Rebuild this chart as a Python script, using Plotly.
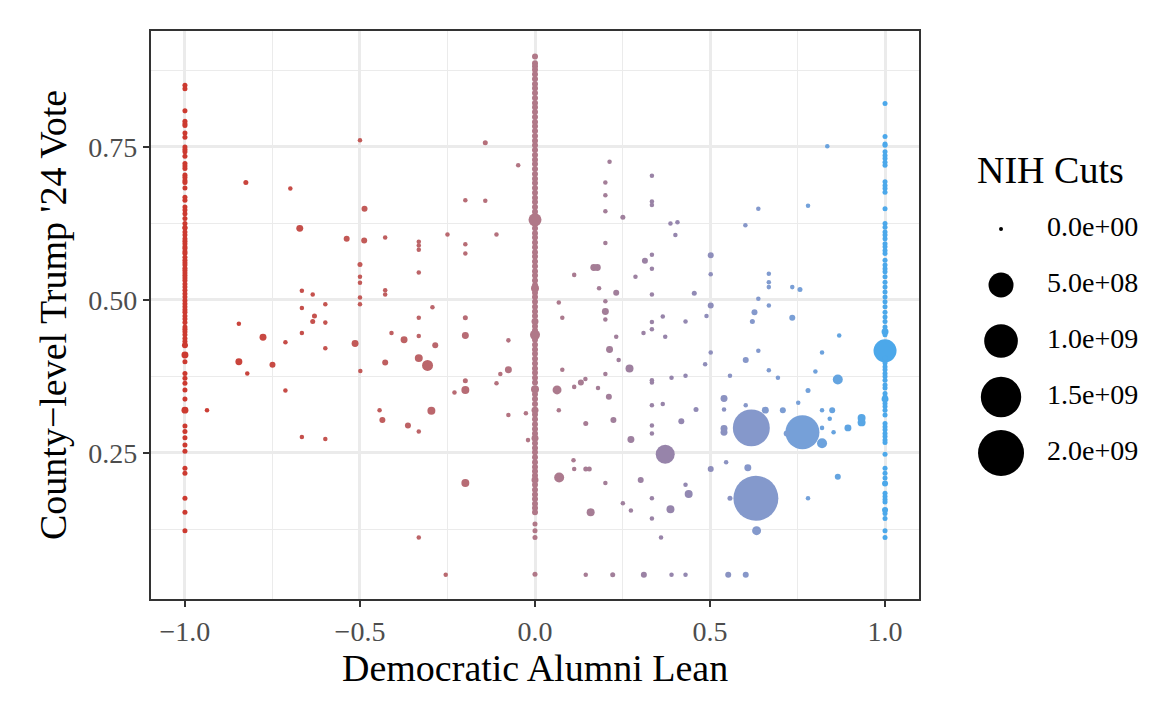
import numpy as np
import plotly.graph_objects as go

# universities spread across the lean axis
lean = [-0.826, -0.699, -0.500, -0.142, -0.048, -0.487, -0.199, -0.142, -0.672, -0.538,
        -0.488, -0.428, -0.332, -0.332, -0.332, -0.250, -0.199, -0.199, -0.110, -0.500,
        -0.500, -0.500, -0.332, -0.666, -0.635, -0.599, -0.666, -0.630, -0.500, -0.500,
        -0.428, -0.428, -0.293, -0.332, -0.199,
        -0.846, -0.635, -0.599, -0.777, -0.666, -0.713, -0.599, -0.514, -0.410, -0.374,
        -0.332, -0.285, -0.199, -0.076, -0.846, -0.750, -0.822, -0.499, -0.428, -0.332,
        -0.307, -0.076, -0.099, -0.199, -0.199, -0.110, -0.230, -0.713, -0.937, -0.444,
        -0.436, -0.363, -0.332, -0.296, -0.076, -0.026, -0.020, -0.666, -0.599, -0.199,
        -0.332, -0.255,
        0.213, 0.201, 0.201, 0.201, 0.251, 0.334, 0.334, 0.334, 0.387, 0.407,
        0.401, 0.201, 0.112, 0.168, 0.178, 0.183, 0.232, 0.201, 0.201, 0.287,
        0.314, 0.334, 0.334, 0.334, 0.068, 0.078, 0.365, 0.455, 0.502, 0.502,
        0.502, 0.490, 0.601, 0.638, 0.780, 0.835, 0.668, 0.668, 0.668, 0.668,
        0.638, 0.627, 0.735, 0.757, 0.735,
        0.201, 0.334, 0.334, 0.430, 0.621, 0.310, 0.372, 0.232, 0.078, 0.213,
        0.239, 0.270, 0.201, 0.063, 0.112, 0.131, 0.144, 0.180, 0.211, 0.068,
        0.145, 0.224, 0.274, 0.334, 0.334, 0.390, 0.430, 0.334, 0.365, 0.334,
        0.334, 0.418, 0.460, 0.502, 0.486, 0.557, 0.602, 0.638, 0.668, 0.694,
        0.540, 0.540, 0.602, 0.540, 0.540, 0.618, 0.658, 0.708, 0.764, 0.719,
        0.752, 0.780, 0.801, 0.820, 0.869, 0.865, 0.820, 0.849, 0.842, 0.820,
        0.853, 0.820, 0.894, 0.933, 0.933, 0.372, 0.502, 0.546, 0.608, 0.865,
        0.069, 0.110, 0.112, 0.145, 0.155, 0.201, 0.302, 0.430, 0.439, 0.334,
        0.557, 0.631, 0.780, 0.251, 0.274, 0.387, 0.159, 0.334, 0.633, 0.360,
        0.145, 0.222, 0.311, 0.390, 0.430, 0.552, 0.602]
vote = [0.692, 0.682, 0.761, 0.757, 0.720, 0.649, 0.663, 0.662, 0.617, 0.600,
        0.597, 0.602, 0.595, 0.589, 0.582, 0.607, 0.591, 0.576, 0.607, 0.558,
        0.538, 0.528, 0.545, 0.515, 0.509, 0.493, 0.487, 0.474, 0.504, 0.493,
        0.516, 0.509, 0.488, 0.471, 0.471,
        0.461, 0.465, 0.463, 0.439, 0.446, 0.431, 0.421, 0.429, 0.446, 0.435,
        0.441, 0.426, 0.442, 0.434, 0.399, 0.394, 0.380, 0.384, 0.398, 0.405,
        0.393, 0.386, 0.379, 0.368, 0.353, 0.364, 0.349, 0.352, 0.320, 0.320,
        0.304, 0.295, 0.285, 0.319, 0.312, 0.315, 0.271, 0.276, 0.273, 0.201,
        0.112, 0.051,
        0.726, 0.692, 0.671, 0.645, 0.635, 0.703, 0.661, 0.655, 0.625, 0.627,
        0.606, 0.593, 0.541, 0.553, 0.553, 0.519, 0.512, 0.498, 0.481, 0.538,
        0.564, 0.574, 0.551, 0.509, 0.496, 0.471, 0.473, 0.511, 0.573, 0.542,
        0.491, 0.474, 0.622, 0.649, 0.654, 0.751, 0.543, 0.529, 0.521, 0.491,
        0.502, 0.480, 0.521, 0.517, 0.471,
        0.468, 0.464, 0.452, 0.465, 0.465, 0.446, 0.440, 0.440, 0.386, 0.419,
        0.402, 0.388, 0.379, 0.353, 0.358, 0.365, 0.371, 0.356, 0.342, 0.320,
        0.298, 0.304, 0.272, 0.369, 0.365, 0.373, 0.376, 0.328, 0.330, 0.295,
        0.282, 0.302, 0.321, 0.414, 0.395, 0.376, 0.402, 0.417, 0.385, 0.373,
        0.339, 0.321, 0.328, 0.290, 0.284, 0.291, 0.320, 0.320, 0.284, 0.282,
        0.332, 0.352, 0.383, 0.414, 0.442, 0.370, 0.320, 0.320, 0.306, 0.291,
        0.284, 0.266, 0.291, 0.307, 0.300, 0.248, 0.224, 0.235, 0.226, 0.211,
        0.210, 0.238, 0.224, 0.224, 0.224, 0.201, 0.206, 0.198, 0.183, 0.176,
        0.176, 0.176, 0.176, 0.168, 0.156, 0.158, 0.153, 0.143, 0.123, 0.112,
        0.051, 0.051, 0.051, 0.051, 0.051, 0.051, 0.051]
cuts = [1.2e6, 3e5, 3e5, 1.2e6, 3e5, 4.5e6, 3e5, 3e5, 1.0e7, 4.5e6,
        4.5e6, 3e5, 3e5, 3e5, 3e5, 3e5, 3e5, 3e5, 3e5, 1.2e6,
        3e5, 3e5, 3e5, 3e5, 3e5, 3e5, 3e5, 1.2e6, 3e5, 3e5,
        3e5, 3e5, 3e5, 3e5, 1.2e6,
        3e5, 1.2e6, 3e5, 1.0e7, 3e5, 3e5, 3e5, 1.0e7, 3e5, 1.0e7,
        3e5, 4.5e6, 1.0e7, 3e5, 1.0e7, 4.5e6, 3e5, 3e5, 4.5e6, 1.8e7,
        5.6e7, 1.0e7, 3e5, 1.2e6, 1.8e7, 3e5, 3e5, 3e5, 3e5, 3e5,
        4.5e6, 4.5e6, 3e5, 1.8e7, 3e5, 3e5, 3e5, 3e5, 3e5, 1.8e7,
        3e5, 3e5,
        3e5, 3e5, 3e5, 3e5, 1.2e6, 3e5, 3e5, 3e5, 3e5, 3e5,
        3e5, 3e5, 3e5, 1.0e7, 1.0e7, 3e5, 4.5e6, 3e5, 1.0e7, 3e5,
        4.5e6, 3e5, 3e5, 3e5, 3e5, 3e5, 3e5, 1.2e6, 4.5e6, 3e5,
        4.5e6, 3e5, 3e5, 3e5, 3e5, 3e5, 3e5, 3e5, 3e5, 3e5,
        3e5, 4.5e6, 3e5, 1.2e6, 4.5e6,
        3e5, 3e5, 3e5, 3e5, 1.2e6, 3e5, 3e5, 3e5, 3e5, 1.0e7,
        3e5, 1.8e7, 3e5, 2.8e7, 3e5, 4.5e6, 3e5, 3e5, 4.5e6, 3e5,
        1.2e6, 4.5e6, 1.0e7, 3e5, 3e5, 3e5, 3e5, 3e5, 3e5, 3e5,
        3e5, 4.5e6, 1.2e6, 3e5, 3e5, 3e5, 4.5e6, 3e5, 3e5, 3e5,
        1.0e7, 3e5, 3e5, 1.0e7, 1.0e7, 1.23e9, 1.0e7, 4.5e6, 1.02e9, 4.5e6,
        3e5, 1.2e6, 3e5, 3e5, 3e5, 4.1e7, 3e5, 4.5e6, 3e5, 3e5,
        3e5, 4.1e7, 1.0e7, 1.8e7, 1.8e7, 2.55e8, 4.5e6, 3e5, 1.0e7, 4.5e6,
        4.1e7, 3e5, 3e5, 1.2e6, 1.2e6, 3e5, 4.5e6, 3e5, 1.8e7, 3e5,
        1.2e6, 1.9e9, 3e5, 3e5, 3e5, 1.8e7, 1.8e7, 3e5, 2.8e7, 3e5,
        3e5, 1.2e6, 4.5e6, 3e5, 3e5, 4.5e6, 4.5e6]

# lean = -1 column
rep_vote = [0.851, 0.845, 0.809, 0.792, 0.788, 0.785, 0.773, 0.766, 0.750, 0.746,
            0.742, 0.735, 0.723, 0.719, 0.715, 0.704, 0.700, 0.695, 0.692, 0.683,
            0.668, 0.663, 0.652, 0.647, 0.641, 0.633, 0.625, 0.619, 0.617, 0.611,
            0.606, 0.600, 0.596, 0.592, 0.587, 0.584, 0.579, 0.576, 0.570, 0.565,
            0.561, 0.557, 0.552, 0.548, 0.544, 0.540, 0.536, 0.532, 0.526, 0.521,
            0.516, 0.510, 0.505, 0.499, 0.494, 0.489, 0.484, 0.480, 0.474, 0.469,
            0.463, 0.456, 0.452, 0.448, 0.443, 0.437, 0.432, 0.426, 0.410, 0.399,
            0.380, 0.372, 0.364, 0.353, 0.338, 0.320, 0.294, 0.285, 0.275, 0.263,
            0.253, 0.225, 0.217, 0.176, 0.153, 0.123]
rep_cuts = [1.2e6, 1.2e6, 1.2e6, 1.2e6, 1.2e6, 1.2e6, 1.2e6, 1.2e6, 1.2e6, 1.2e6,
            1.2e6, 1.2e6, 1.2e6, 1.2e6, 1.2e6, 1.2e6, 1.2e6, 1.2e6, 1.2e6, 1.2e6,
            1.2e6, 1.2e6, 1.2e6, 1.2e6, 1.2e6, 1.2e6, 1.2e6, 1.2e6, 1.2e6, 1.2e6,
            1.2e6, 1.2e6, 1.2e6, 1.2e6, 1.2e6, 1.2e6, 1.2e6, 1.2e6, 1.2e6, 1.2e6,
            1.2e6, 1.2e6, 1.2e6, 1.2e6, 1.2e6, 1.2e6, 1.2e6, 1.2e6, 1.2e6, 1.2e6,
            1.2e6, 1.2e6, 1.2e6, 1.2e6, 1.2e6, 1.2e6, 1.2e6, 1.2e6, 1.2e6, 1.2e6,
            1.2e6, 1.2e6, 1.2e6, 1.2e6, 1.2e6, 1.2e6, 1.2e6, 4.5e6, 1.0e7, 1.2e6,
            1.2e6, 1.2e6, 1.2e6, 1.2e6, 1.2e6, 1.0e7, 1.2e6, 1.2e6, 1.2e6, 1.2e6,
            1.2e6, 1.2e6, 1.2e6, 1.2e6, 1.2e6, 1.2e6]

# lean = 0 column
mix_vote = [0.898, 0.887, 0.882, 0.876, 0.869, 0.861, 0.853, 0.846, 0.838, 0.830,
            0.822, 0.815, 0.807, 0.799, 0.791, 0.784, 0.776, 0.768, 0.760, 0.753,
            0.745, 0.737, 0.729, 0.722, 0.714, 0.706, 0.698, 0.691, 0.683, 0.675,
            0.667, 0.660, 0.652, 0.644, 0.636, 0.631, 0.625, 0.617, 0.609, 0.602,
            0.594, 0.586, 0.578, 0.571, 0.563, 0.555, 0.547, 0.540, 0.532, 0.524,
            0.519, 0.512, 0.505, 0.497, 0.489, 0.481, 0.474, 0.465, 0.457, 0.450,
            0.443, 0.435, 0.427, 0.419, 0.412, 0.404, 0.396, 0.388, 0.381, 0.373,
            0.365, 0.354, 0.346, 0.338, 0.330, 0.320, 0.313, 0.305, 0.297, 0.289,
            0.282, 0.274, 0.266, 0.258, 0.251, 0.243, 0.235, 0.227, 0.220, 0.213,
            0.206, 0.198, 0.190, 0.182, 0.175, 0.167, 0.160, 0.153, 0.134, 0.123,
            0.112, 0.052]
mix_cuts = [4.5e6, 4.5e6, 4.5e6, 4.5e6, 4.5e6, 4.5e6, 4.5e6, 4.5e6, 4.5e6, 4.5e6,
            4.5e6, 4.5e6, 4.5e6, 4.5e6, 4.5e6, 4.5e6, 4.5e6, 4.5e6, 4.5e6, 4.5e6,
            4.5e6, 4.5e6, 4.5e6, 4.5e6, 4.5e6, 4.5e6, 4.5e6, 4.5e6, 4.5e6, 4.5e6,
            4.5e6, 4.5e6, 4.5e6, 4.5e6, 4.5e6, 9.2e7, 4.5e6, 4.5e6, 4.5e6, 4.5e6,
            4.5e6, 4.5e6, 4.5e6, 4.5e6, 4.5e6, 4.5e6, 4.5e6, 4.5e6, 4.5e6, 4.5e6,
            1.8e7, 4.5e6, 4.5e6, 4.5e6, 4.5e6, 4.5e6, 4.5e6, 1.0e7, 4.5e6, 4.5e6,
            4.1e7, 4.5e6, 4.5e6, 4.5e6, 4.5e6, 4.5e6, 4.5e6, 4.5e6, 4.5e6, 4.5e6,
            4.5e6, 1.8e7, 4.5e6, 4.5e6, 4.5e6, 1.0e7, 4.5e6, 4.5e6, 4.5e6, 4.5e6,
            4.5e6, 1.0e7, 4.5e6, 4.5e6, 4.5e6, 4.5e6, 4.5e6, 4.5e6, 4.5e6, 4.5e6,
            1.0e7, 4.5e6, 4.5e6, 4.5e6, 4.5e6, 4.5e6, 4.5e6, 4.5e6, 1.2e6, 1.2e6,
            1.2e6, 1.2e6]

# lean = +1 column
dem_vote = [0.821, 0.767, 0.755, 0.753, 0.742, 0.736, 0.731, 0.725, 0.720, 0.693,
            0.687, 0.682, 0.676, 0.649, 0.625, 0.619, 0.611, 0.606, 0.600, 0.592,
            0.587, 0.581, 0.576, 0.565, 0.557, 0.551, 0.546, 0.538, 0.529, 0.521,
            0.513, 0.505, 0.497, 0.489, 0.480, 0.472, 0.465, 0.456, 0.448, 0.443,
            0.417, 0.405, 0.397, 0.391, 0.386, 0.380, 0.375, 0.369, 0.361, 0.356,
            0.347, 0.342, 0.338, 0.331, 0.326, 0.320, 0.312, 0.298, 0.293, 0.288,
            0.282, 0.277, 0.271, 0.267, 0.248, 0.225, 0.217, 0.209, 0.200, 0.184,
            0.179, 0.174, 0.170, 0.157, 0.151, 0.143, 0.123, 0.112]
dem_cuts = [1.2e6, 1.2e6, 1.2e6, 1.2e6, 1.2e6, 1.2e6, 1.2e6, 1.2e6, 1.2e6, 1.2e6,
            1.2e6, 1.2e6, 1.2e6, 1.2e6, 1.2e6, 1.2e6, 1.2e6, 1.2e6, 1.2e6, 1.2e6,
            1.2e6, 1.2e6, 1.2e6, 1.2e6, 1.2e6, 1.2e6, 1.2e6, 1.2e6, 1.2e6, 1.2e6,
            1.2e6, 1.2e6, 1.2e6, 1.2e6, 1.2e6, 1.2e6, 1.2e6, 1.2e6, 1.0e7, 1.2e6,
            4.1e8, 1.2e6, 1.2e6, 1.2e6, 1.2e6, 1.2e6, 1.2e6, 1.2e6, 1.2e6, 1.2e6,
            1.2e6, 1.2e6, 1.0e7, 1.2e6, 1.2e6, 1.2e6, 1.2e6, 1.2e6, 1.2e6, 1.2e6,
            1.2e6, 1.2e6, 1.2e6, 1.2e6, 1.2e6, 1.2e6, 1.2e6, 1.2e6, 4.5e6, 1.2e6,
            1.2e6, 1.2e6, 1.2e6, 4.5e6, 1.2e6, 1.2e6, 1.2e6, 1.2e6]

legend_cuts = [0, 5e8, 1e9, 1.5e9, 2e9]


def size_scale(v):
    # area-style size scale, like ggplot's scale_size
    return 4 + 42 * np.sqrt(np.asarray(v, dtype=float) / 2e9)


all_lean = lean + [-1.0] * len(rep_vote) + [0.0] * len(mix_vote) + [1.0] * len(dem_vote)
all_vote = vote + rep_vote + mix_vote + dem_vote
all_cuts = cuts + rep_cuts + mix_cuts + dem_cuts

lean_colors = [[0.0, "#CC3A30"], [0.25, "#C25A58"], [0.5, "#B07888"], [0.6, "#A37E98"],
               [0.7, "#9585AD"], [0.8, "#8797C9"], [0.88, "#77A0D8"], [1.0, "#4CA8EA"]]

font = "Liberation Serif"

fig = go.Figure()
fig.add_trace(go.Scatter(
    x=all_lean, y=all_vote, mode="markers",
    marker=dict(size=size_scale(all_cuts), sizemode="diameter", color=all_lean,
                colorscale=lean_colors, cmin=-1, cmax=1, line=dict(width=0), opacity=1),
    showlegend=False, hoverinfo="x+y",
))

# size legend drawn on its own little axis
fig.add_trace(go.Scatter(
    x=[0] * len(legend_cuts), y=list(range(len(legend_cuts))), mode="markers",
    marker=dict(size=size_scale(legend_cuts), color="black", opacity=1, line=dict(width=0)),
    xaxis="x2", yaxis="y2", showlegend=False, hoverinfo="skip",
))
fig.add_trace(go.Scatter(
    x=[2.3] * len(legend_cuts), y=list(range(len(legend_cuts))), mode="text",
    text=[f"{v:.1e}" for v in legend_cuts], textposition="middle right",
    textfont=dict(family=font, size=28, color="black"),
    xaxis="x2", yaxis="y2", showlegend=False, hoverinfo="skip",
))

axis_common = dict(
    showline=True, mirror=True, linecolor="#333333", linewidth=2.2,
    ticks="outside", ticklen=6, tickwidth=2.2, tickcolor="#333333",
    showgrid=True, gridcolor="#EBEBEB", gridwidth=2.5, zeroline=False,
    tickfont=dict(family=font, size=28, color="#4D4D4D"),
)

# page body adds an 8px offset, so the figure is laid out 8px smaller
fig.update_layout(
    width=1160, height=698,
    margin=dict(l=143, r=10, t=23, b=107),
    paper_bgcolor="white", plot_bgcolor="white",
    xaxis=dict(domain=[0, 0.76266], range=[-1.097, 1.097], dtick=0.5, tick0=0,
               tickformat=".1f", minor=dict(dtick=0.25, showgrid=True, gridcolor="#EBEBEB", gridwidth=1.2),
               **axis_common),
    yaxis=dict(range=[0.0114, 0.9395], dtick=0.25, tick0=0, tickformat=".2f",
               minor=dict(dtick=0.125, showgrid=True, gridcolor="#EBEBEB", gridwidth=1.2),
               **axis_common),
    xaxis2=dict(domain=[0.8183, 1.0], range=[-1.3, 7.85], visible=False, anchor="y2"),
    yaxis2=dict(domain=[0.2077, 0.7007], range=[4.5, -0.5], visible=False, anchor="x2"),
    annotations=[
        dict(text="Democratic Alumni Lean", xref="paper", yref="paper", x=0.3813, y=-0.1215,
             xanchor="center", yanchor="middle", showarrow=False,
             font=dict(family=font, size=38, color="black")),
        dict(text="County\u2212level Trump '24 Vote", xref="paper", yref="paper", x=-0.0973, y=0.5,
             xanchor="center", yanchor="middle", textangle=-90, showarrow=False,
             font=dict(family=font, size=38, color="black")),
        dict(text="NIH Cuts", xref="paper", yref="paper", x=0.8183, y=0.7553,
             xanchor="left", yanchor="middle", showarrow=False,
             font=dict(family=font, size=38, color="black")),
    ],
)

fig.write_html("out.html")
